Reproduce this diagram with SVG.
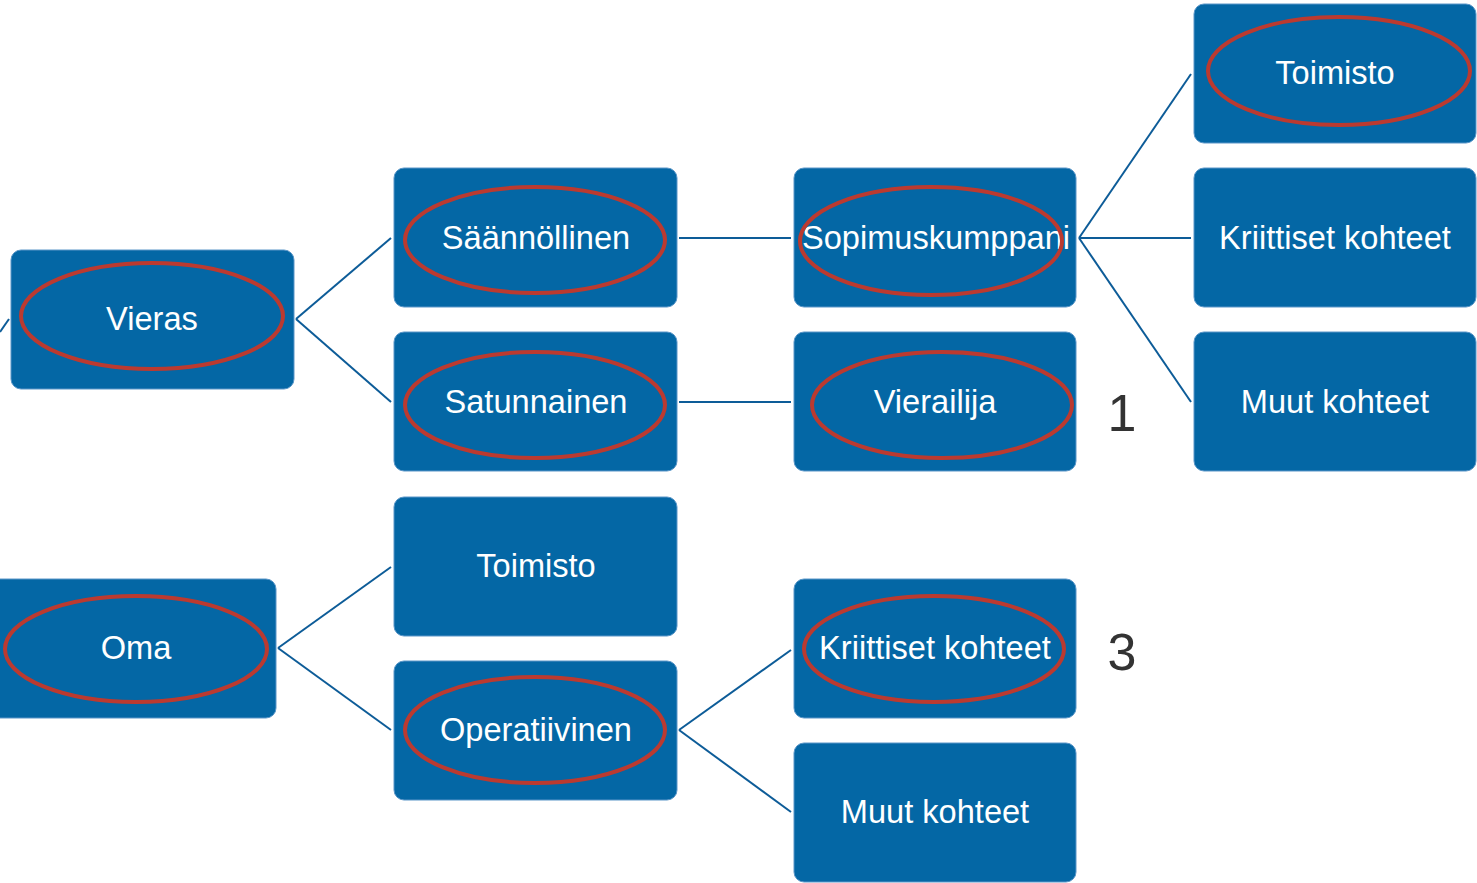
<svg xmlns="http://www.w3.org/2000/svg" width="1477" height="883" viewBox="0 0 1477 883">
<style>
.box{fill:#0467a5;stroke:#5a96c8;stroke-width:1}
.lbl{font-family:"Liberation Sans",Arial,sans-serif;font-size:32.6px;fill:#ffffff;text-anchor:middle}
.ring{fill:none;stroke:#bb3a30;stroke-width:4}
.num{font-family:"Liberation Sans",Arial,sans-serif;font-size:52px;fill:#333333;text-anchor:middle}
.conn line{stroke:#0d5c98;stroke-width:2;fill:none}
</style>
<rect width="1477" height="883" fill="#ffffff"/>
<g id="connectors" class="conn">
<line x1="0" y1="332" x2="9" y2="319"/>
<line x1="296" y1="319" x2="391" y2="238"/>
<line x1="296" y1="319" x2="391" y2="402"/>
<line x1="679" y1="238" x2="791" y2="238"/>
<line x1="679" y1="402" x2="791" y2="402"/>
<line x1="1079" y1="238" x2="1191" y2="74"/>
<line x1="1079" y1="238" x2="1191" y2="238"/>
<line x1="1079" y1="238" x2="1191" y2="402"/>
<line x1="278" y1="648" x2="391" y2="567"/>
<line x1="278" y1="648" x2="391" y2="730"/>
<line x1="679" y1="730" x2="791" y2="650"/>
<line x1="679" y1="730" x2="791" y2="812"/>
</g>
<g id="vieras"><rect class="box" x="11" y="250" width="283" height="139" rx="10"/><text class="lbl" x="152" y="330">Vieras</text><ellipse class="ring" cx="152" cy="316" rx="131" ry="53"/></g>
<g id="oma"><rect class="box" x="-12" y="579" width="288" height="139" rx="10"/><text class="lbl" x="136" y="659">Oma</text><ellipse class="ring" cx="136" cy="649" rx="131" ry="53"/></g>
<g id="saannollinen"><rect class="box" x="394" y="168" width="283" height="139" rx="10"/><text class="lbl" x="536" y="249">Säännöllinen</text><ellipse class="ring" cx="535" cy="240" rx="130" ry="53"/></g>
<g id="satunnainen"><rect class="box" x="394" y="332" width="283" height="139" rx="10"/><text class="lbl" x="536" y="413">Satunnainen</text><ellipse class="ring" cx="535" cy="405" rx="130" ry="53"/></g>
<g id="toimisto2"><rect class="box" x="394" y="497" width="283" height="139" rx="10"/><text class="lbl" x="536" y="577">Toimisto</text></g>
<g id="operatiivinen"><rect class="box" x="394" y="661" width="283" height="139" rx="10"/><text class="lbl" x="536" y="741">Operatiivinen</text><ellipse class="ring" cx="535" cy="730" rx="130" ry="53"/></g>
<g id="sopimuskumppani"><rect class="box" x="794" y="168" width="282" height="139" rx="10"/><text class="lbl" x="936" y="249">Sopimuskumppani</text><ellipse class="ring" cx="931" cy="241" rx="131" ry="54"/></g>
<g id="vierailija"><rect class="box" x="794" y="332" width="282" height="139" rx="10"/><text class="lbl" x="935" y="413">Vierailija</text><ellipse class="ring" cx="942" cy="405" rx="130" ry="53"/></g>
<g id="kriittiset2"><rect class="box" x="794" y="579" width="282" height="139" rx="10"/><text class="lbl" x="935" y="659">Kriittiset kohteet</text><ellipse class="ring" cx="934" cy="649" rx="130" ry="53"/></g>
<g id="muut2"><rect class="box" x="794" y="743" width="282" height="139" rx="10"/><text class="lbl" x="935" y="823">Muut kohteet</text></g>
<g id="toimisto3"><rect class="box" x="1194" y="4" width="282" height="139" rx="10"/><text class="lbl" x="1335" y="84">Toimisto</text><ellipse class="ring" cx="1339" cy="71" rx="131" ry="54"/></g>
<g id="kriittiset3"><rect class="box" x="1194" y="168" width="282" height="139" rx="10"/><text class="lbl" x="1335" y="249">Kriittiset kohteet</text></g>
<g id="muut3"><rect class="box" x="1194" y="332" width="282" height="139" rx="10"/><text class="lbl" x="1335" y="413">Muut kohteet</text></g>
<text class="num" x="1122" y="431">1</text>
<text class="num" x="1122" y="670">3</text>
</svg>
